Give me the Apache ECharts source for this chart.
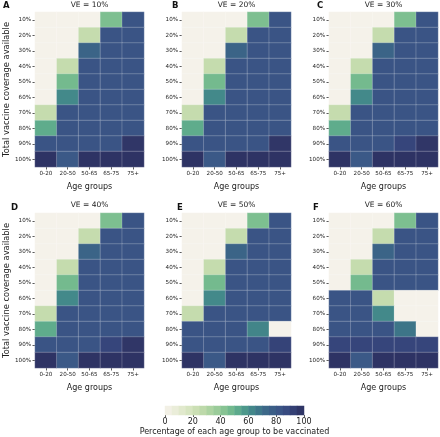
<!DOCTYPE html>
<html><head><meta charset="utf-8">
<script src="https://cdn.jsdelivr.net/npm/echarts@6/dist/echarts.min.js"></script>
<style>html,body{margin:0;padding:0;background:#fff}#c{width:440px;height:437px}</style>
</head><body><div id="c"></div>
<script>
const ageGroups = ['0-20', '20-50', '50-65', '65-75', '75+'];
const coverage = ['10%', '20%', '30%', '40%', '50%', '60%', '70%', '80%', '90%', '100%'];
const veTitles = ['VE = 10%', 'VE = 20%', 'VE = 30%', 'VE = 40%', 'VE = 50%', 'VE = 60%'];
const panelLetters = ['A', 'B', 'C', 'D', 'E', 'F'];
const colorbarTicks = [0, 20, 40, 60, 80, 100];
const colorbarSteps = [2.5, 7.5, 12.5, 17.5, 22.5, 27.5, 32.5, 37.5, 42.5, 47.5, 52.5, 57.5, 62.5, 67.5, 72.5, 77.5, 82.5, 87.5, 92.5, 97.5];

// rows = coverage 10%..100%, columns = age groups
const valuesA = [
  [0, 0, 0, 45, 83],
  [0, 0, 25, 83, 83],
  [0, 0, 74, 83, 83],
  [0, 25, 83, 83, 83],
  [0, 47, 83, 83, 83],
  [0, 62, 83, 83, 83],
  [25, 83, 83, 83, 83],
  [52, 83, 83, 83, 83],
  [83, 83, 83, 83, 97],
  [98, 80, 98, 98, 98]
];
const valuesB = [
  [0, 0, 0, 45, 83],
  [0, 0, 25, 83, 83],
  [0, 0, 74, 83, 83],
  [0, 25, 83, 83, 83],
  [0, 47, 83, 83, 83],
  [0, 62, 83, 83, 83],
  [25, 83, 83, 83, 83],
  [52, 83, 83, 83, 83],
  [83, 83, 83, 83, 97],
  [98, 80, 98, 98, 98]
];
const valuesC = [
  [0, 0, 0, 45, 83],
  [0, 0, 25, 83, 83],
  [0, 0, 74, 83, 83],
  [0, 25, 83, 83, 83],
  [0, 47, 83, 83, 83],
  [0, 62, 83, 83, 83],
  [25, 83, 83, 83, 83],
  [52, 83, 83, 83, 83],
  [83, 83, 83, 90, 97],
  [98, 80, 98, 98, 98]
];
const valuesD = [
  [0, 0, 0, 45, 83],
  [0, 0, 25, 83, 83],
  [0, 0, 74, 83, 83],
  [0, 25, 83, 83, 83],
  [0, 47, 83, 83, 83],
  [0, 62, 83, 83, 83],
  [25, 83, 83, 83, 83],
  [52, 83, 83, 83, 83],
  [83, 83, 83, 90, 97],
  [98, 80, 98, 98, 98]
];
const valuesE = [
  [0, 0, 0, 45, 83],
  [0, 0, 25, 83, 83],
  [0, 0, 74, 83, 83],
  [0, 25, 83, 83, 83],
  [0, 47, 83, 83, 83],
  [0, 62, 83, 83, 83],
  [25, 83, 83, 83, 83],
  [83, 83, 83, 63, 0],
  [83, 83, 83, 83, 91],
  [98, 80, 98, 98, 98]
];
const valuesF = [
  [0, 0, 0, 45, 83],
  [0, 0, 25, 83, 83],
  [0, 0, 74, 83, 83],
  [0, 25, 83, 83, 83],
  [0, 47, 83, 83, 83],
  [83, 83, 25, 0, 0],
  [83, 83, 62, 0, 0],
  [83, 83, 83, 68, 0],
  [90, 90, 90, 90, 90],
  [98, 80, 98, 98, 98]
];
const panels = [valuesA, valuesB, valuesC, valuesD, valuesE, valuesF];

const cmap = ['#f5f2ea', '#eeeedf', '#e6ebd3', '#dce7c7', '#d1e2ba', '#c5dcae', '#b5d6a5', '#a3cf9c',
  '#90c796', '#7dbf90', '#67b38c', '#53a18b', '#468f8a', '#3f7f89', '#3c6e88', '#3b6287',
  '#3b5987', '#3a5084', '#36457b', '#323a6c', '#2c2f5f'];

const FONT = 'DejaVu Sans';
const TXT = '#222';
const colLeft = [35, 182, 329];
const rowTop = [12, 213];
const W = 109, H = 155;
const titleTop = [1, 201];
const letterLeft = [[3, 172, 317], [11, 177, 313]];
const letterTop = [1, 203];

const grid = [], xAxis = [], yAxis = [], series = [], title = [];
panels.forEach((vals, p) => {
  const c = p % 3, r = Math.floor(p / 3);
  grid.push({ left: colLeft[c], top: rowTop[r], width: W, height: H });
  xAxis.push({
    type: 'category', gridIndex: p, data: ageGroups, position: 'bottom',
    name: 'Age groups', nameLocation: 'middle', nameGap: 16,
    nameTextStyle: { fontFamily: FONT, fontSize: 8, color: TXT },
    axisLine: { show: false }, axisTick: { show: true, length: 2.5, lineStyle: { color: '#333', width: 0.8 }, alignWithLabel: true },
    axisLabel: { fontFamily: FONT, fontSize: 5.6, color: TXT, margin: 4, interval: 0 },
    splitLine: { show: false }
  });
  yAxis.push({
    type: 'category', gridIndex: p, data: coverage, inverse: true,
    name: c === 0 ? 'Total vaccine coverage available' : '', nameLocation: 'middle', nameGap: 23, nameRotate: 90,
    nameTextStyle: { fontFamily: FONT, fontSize: 8.3, color: TXT },
    axisLine: { show: false }, axisTick: { show: true, length: 2.5, lineStyle: { color: '#333', width: 0.8 }, alignWithLabel: true },
    axisLabel: { fontFamily: FONT, fontSize: 5.6, color: TXT, margin: 4 },
    splitLine: { show: false }
  });
  const data = [];
  vals.forEach((row, i) => row.forEach((v, j) => data.push([j, i, v])));
  series.push({
    type: 'heatmap', xAxisIndex: p, yAxisIndex: p, data: data,
    itemStyle: { borderColor: 'rgba(255,255,255,0.28)', borderWidth: 0.8 },
    emphasis: { disabled: true }, silent: true
  });
  title.push({
    text: veTitles[p], left: colLeft[c] + W / 2, top: titleTop[r], textAlign: 'center', padding: 0,
    textStyle: { fontFamily: FONT, fontSize: 7.5, fontWeight: 'normal', color: TXT }
  });
  title.push({
    text: panelLetters[p], left: letterLeft[r][c], top: letterTop[r], padding: 0,
    textStyle: { fontFamily: FONT, fontSize: 8.5, fontWeight: 'bold', color: '#111' }
  });
});

// colorbar
const cb = panels.length;
grid.push({ left: 165, top: 406, width: 139, height: 9 });
xAxis.push({
  type: 'category', gridIndex: cb, data: colorbarSteps.map(String), show: false
});
xAxis.push({
  type: 'value', gridIndex: cb, min: 0, max: 100, interval: 20, position: 'bottom',
  name: 'Percentage of each age group to be vaccinated', nameLocation: 'middle', nameGap: 13,
  nameTextStyle: { fontFamily: FONT, fontSize: 8, color: TXT },
  axisLine: { show: false }, axisTick: { show: true, length: 2, lineStyle: { color: '#333', width: 0.8 } },
  axisLabel: { fontFamily: FONT, fontSize: 8, color: TXT, margin: 3, customValues: colorbarTicks },
  splitLine: { show: false }
});
yAxis.push({ type: 'category', gridIndex: cb, data: ['c'], show: false });
series.push({
  type: 'heatmap', xAxisIndex: cb, yAxisIndex: cb,
  data: colorbarSteps.map((v, i) => [i, 0, v]),
  emphasis: { disabled: true }, silent: true
});

const chart = echarts.init(document.getElementById('c'), null, { renderer: 'canvas' });
chart.setOption({
  animation: false,
  backgroundColor: '#fff',
  title: title,
  grid: grid,
  xAxis: xAxis,
  yAxis: yAxis,
  visualMap: {
    type: 'continuous', show: false, min: 0, max: 100,
    seriesIndex: series.map((s, i) => i),
    inRange: { color: cmap }
  },
  series: series
});
</script></body></html>
